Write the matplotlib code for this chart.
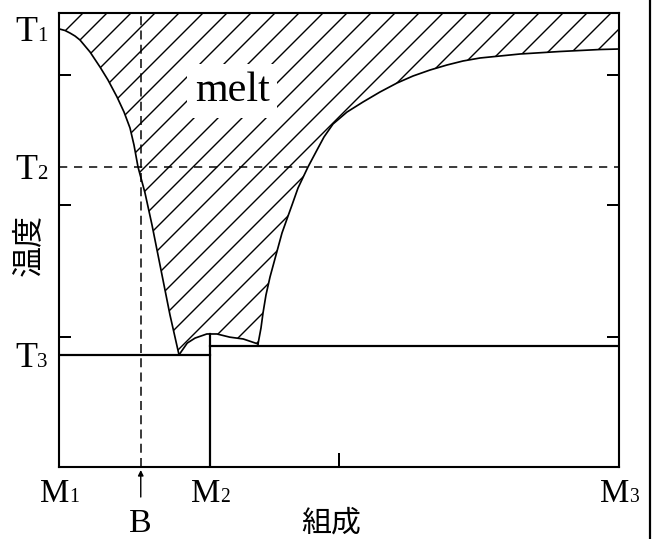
import numpy as np
import matplotlib.pyplot as plt

# drawn at 72 dpi so that 1 pt = 1 px and the hatch spacing is ~12 px
plt.rcParams['hatch.linewidth'] = 1.4
serif = 'Liberation Serif'
cjk = ['Noto Sans CJK JP', 'DejaVu Sans']

# composition axis (M1 = 0, M3 = 100)
comp_names = ['M', 'M', 'M']
comp_subs = ['1', '2', '3']
comp_pos = [0, 27, 100]
comp_b = 14.6
x_ticks = [50]

# temperature axis (0 = bottom, 100 = top)
temp_names = ['T', 'T', 'T']
temp_subs = ['1', '2', '3']
temp_levels = [96.5, 66.1, 24.7]
y_ticks = [86.3, 57.7, 28.6]
solidus_left = 24.7
solidus_right = 26.7

# liquidus from M1 side down to eutectic
left_x = [0, 1.07, 1.96, 2.86, 3.75, 5.54, 7.32, 8.75, 10.36, 11.61,
          12.68, 13.39, 14.11, 15.36, 16.61, 17.68, 18.75, 19.82, 20.71, 21.43]
left_y = [96.5, 96.15, 95.59, 94.93, 94.05, 91.41, 88.11, 85.24, 81.5, 78.19,
          74.67, 70.93, 66.08, 60.35, 53.3, 46.7, 40.09, 33.48, 28.63, 24.7]
# small hump over M2
hump_x = [21.43, 22.9, 24.3, 26.4, 28.2, 30.5, 32.9, 35.54]
hump_y = [24.7, 27.3, 28.4, 29.3, 29.3, 28.6, 28.2, 27.1]
# liquidus rising to M3
right_x = [35.54, 36.07, 36.43, 36.96, 37.68, 38.75, 39.82, 40.71, 41.61, 42.68,
           44.46, 46.07, 47.32, 48.93, 51.43, 54.29, 57.32, 60.36, 63.21, 66.25,
           69.29, 72.14, 75.18, 82.32, 89.46, 96.61, 100]
right_y = [27.1, 30.62, 33.92, 37.89, 41.85, 46.7, 51.54, 54.63, 57.71, 61.45,
           66.08, 69.82, 72.69, 75.55, 78.19, 80.4, 82.6, 84.58, 86.12, 87.44,
           88.55, 89.43, 90.09, 90.97, 91.52, 91.96, 92.07]

fig = plt.figure(figsize=(656 / 72, 539 / 72), dpi=72)
ax = fig.add_axes([59 / 656, 1 - 467 / 539, 560 / 656, 454 / 539])
ax.set_xlim(0, 100)
ax.set_ylim(0, 100)

# hatched melt region
lx = np.concatenate([left_x, hump_x[1:], right_x[1:]])
ly = np.concatenate([left_y, hump_y[1:], right_y[1:]])
ax.fill_between(lx, ly, 100, facecolor='white', edgecolor='black',
                hatch='/', linewidth=0, zorder=1)

ax.plot(left_x, left_y, color='black', lw=1.7, zorder=3)
ax.plot(hump_x, hump_y, color='black', lw=1.7, zorder=3)
ax.plot(right_x, right_y, color='black', lw=1.7, zorder=3)

# solidus lines and M2 compound
m2 = comp_pos[1]
ax.plot([0, m2], [solidus_left, solidus_left], color='black', lw=2.2, zorder=3)
ax.plot([m2, 100], [solidus_right, solidus_right], color='black', lw=2.2, zorder=3)
ax.plot([m2, m2], [0, np.interp(m2, hump_x, hump_y)], color='black', lw=2.2, zorder=3)

# guide lines for B and T2
ax.plot([0, 100], [temp_levels[1]] * 2, color='black', lw=1.5,
        dashes=(5.5, 4.5), zorder=2)
ax.plot([comp_b, comp_b], [0, 100], color='black', lw=1.5,
        dashes=(6, 3.5), zorder=2)

ax.text(30.9, 82.8, 'melt', fontsize=42, family=serif, ha='center', va='center',
        zorder=4, bbox=dict(facecolor='white', edgecolor='none', pad=8))

# ticks
for s in ax.spines.values():
    s.set_linewidth(2.1)
ax.set_yticks(y_ticks)
ax.set_xticks(x_ticks)
ax.tick_params(axis='y', direction='in', length=12, width=2,
               left=True, right=True, labelleft=False)
ax.tick_params(axis='x', direction='in', length=14, width=2, labelbottom=False)

# labels with baseline digits
for name, sub, x in zip(comp_names, comp_subs, comp_pos):
    ax.annotate(name, xy=(x, 0), xycoords=('data', 'axes fraction'),
                xytext=(10, -35), textcoords='offset points',
                ha='right', va='baseline', fontsize=33, family=serif)
    ax.annotate(sub, xy=(x, 0), xycoords=('data', 'axes fraction'),
                xytext=(10, -35), textcoords='offset points',
                ha='left', va='baseline', fontsize=19.5, family=serif)

for name, sub, t in zip(temp_names, temp_subs, temp_levels):
    ax.annotate(name, xy=(0, t), xycoords=('axes fraction', 'data'),
                xytext=(-22, -12.5), textcoords='offset points',
                ha='right', va='baseline', fontsize=36, family=serif)
    ax.annotate(sub, xy=(0, t), xycoords=('axes fraction', 'data'),
                xytext=(-22, -12.5), textcoords='offset points',
                ha='left', va='baseline', fontsize=21, family=serif)

ax.annotate('B', xy=(comp_b, 0), xycoords=('data', 'axes fraction'),
            xytext=(0, -65), textcoords='offset points',
            ha='center', va='baseline', fontsize=34, family=serif)
ax.annotate('', xy=(comp_b, 0), xycoords=('data', 'axes fraction'),
            xytext=(comp_b, -30), textcoords=('data', 'offset points'),
            arrowprops=dict(arrowstyle='-|>', color='black', lw=1.4,
                            mutation_scale=11, shrinkA=0, shrinkB=3))

ax.text(0.486, -0.124, '組成', transform=ax.transAxes, fontsize=30,
        family=cjk, ha='center', va='center')
ax.text(-0.0554, 0.489, '温度', transform=ax.transAxes, fontsize=31,
        family=cjk, ha='center', va='center', rotation=90)

# border line at right edge of the picture
fig.add_artist(plt.Line2D([650 / 656, 650 / 656], [0, 1], color='black', lw=2.2,
                          transform=fig.transFigure))

fig.savefig('out.png', dpi=72)
